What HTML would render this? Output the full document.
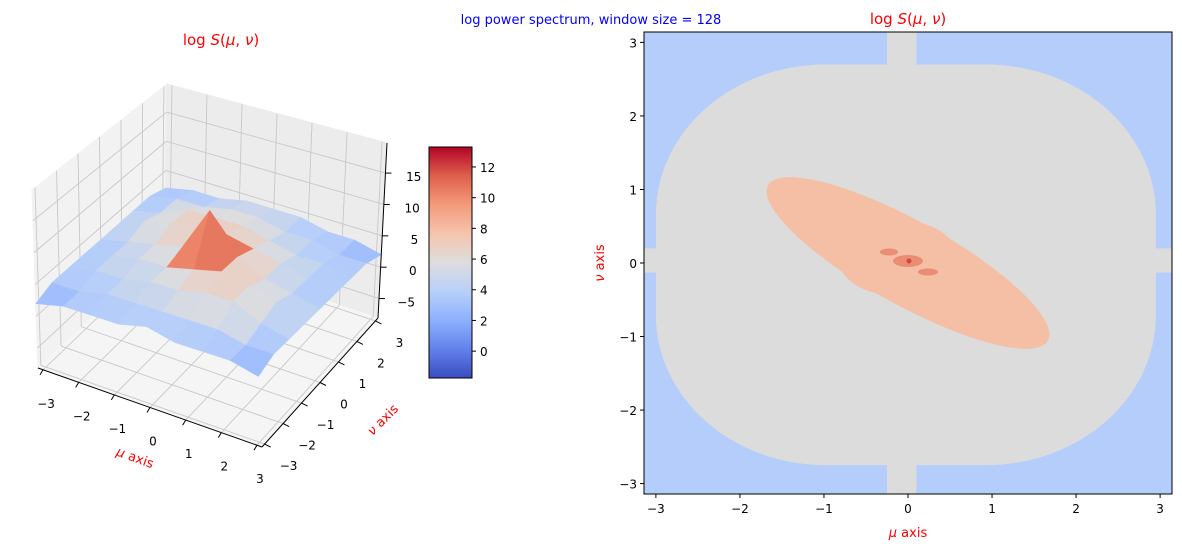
<!DOCTYPE html>
<html><head><meta charset="utf-8"><style>
html,body{margin:0;padding:0;background:#fff;}
svg{display:block;font-family:"DejaVu Sans","Liberation Sans",sans-serif;}
</style></head><body>
<svg id="fig" width="1182" height="551" viewBox="0 0 1182 551" xmlns="http://www.w3.org/2000/svg">
<rect width="1182" height="551" fill="#fff"/>
<text x="591" y="24" fill="#0000ff" font-size="13" text-anchor="middle">log power spectrum, window size = 128</text>
<g id="left"></g>
<g id="cbar"></g>
<g id="right"></g>
</svg>
<script>
// ---- data ----
const muTicks = [-3,-2,-1,0,1,2,3];
const nuTicks = [-3,-2,-1,0,1,2,3];
const zTicks = [-5,0,5,10,15];
const cbarTicks = [0,2,4,6,8,10,12];
const contourTicks = [-3,-2,-1,0,1,2,3];
// surface heights, rows = nu from -pi to pi, cols = mu from -pi to pi
const heights = [
 [2,3,3,3,4,3,3,3,2],
 [3,3,4,4,4,4,4,3,3],
 [3,4,4,5,5,6,6,4,3],
 [3,4,5,5,6,7,6,5,3],
 [3,4,5,6,13,7,5,4,3],
 [3,5,6,7,7,6,5,4,3],
 [3,4,6,6,6,5,4,4,3],
 [3,4,4,5,5,4,4,3,3],
 [2,3,3,4,4,4,3,3,2]
];
const levelColors = ['#b4cdfa','#dcdcdc','#f5bfa6','#eb8c74','#d04a40'];

const NS='http://www.w3.org/2000/svg';
function mk(tag,attrs,parent,txt){const e=document.createElementNS(NS,tag);for(const k in attrs)e.setAttribute(k,attrs[k]);if(txt!==undefined)e.textContent=txt;parent.appendChild(e);return e;}
const PI=Math.PI;
const cw=[[58,76,192],[98,130,234],[141,176,254],[184,208,249],[221,221,221],[245,196,173],[244,154,123],[222,96,76],[180,4,38]];
function coolwarm(t){t=Math.max(0,Math.min(1,t));const s=t*(cw.length-1);const i=Math.min(cw.length-2,Math.floor(s));const f=s-i;const c=cw[i].map((v,k)=>Math.round(v+(cw[i+1][k]-v)*f));return `rgb(${c[0]},${c[1]},${c[2]})`;}
const vmin=-1.75,vmax=13.3;

// ---- 3D axes ----
const L=document.getElementById('left');
const B00=[38,368],B10=[262,447],B11=[378,318],B01=[165,247];
const T00=[32,190],T10=[252,252],T11=[387,143],T01=[167,84];
const zmin=-8.1,zmax=19.8;
function bil(A,Bm,C,D,a,b){return [0,1].map(k=>A[k]*(1-a)*(1-b)+Bm[k]*a*(1-b)+C[k]*a*b+D[k]*(1-a)*b);}
function proj(mu,nu,z){const a=(mu+PI)/(2*PI),b=(nu+PI)/(2*PI),f=(z-zmin)/(zmax-zmin);
 const lo=bil(B00,B10,B11,B01,a,b),hi=bil(T00,T10,T11,T01,a,b);
 return [lo[0]+(hi[0]-lo[0])*f,lo[1]+(hi[1]-lo[1])*f];}
function pts(a){return a.map(p=>p[0].toFixed(1)+','+p[1].toFixed(1)).join(' ');}
const paneL=mk('polygon',{points:pts([proj(-PI,-PI,zmin),proj(-PI,PI,zmin),proj(-PI,PI,zmax),proj(-PI,-PI,zmax)]),fill:'#f2f2f2',stroke:'#f2f2f2'},L);

const paneR=mk('polygon',{points:pts([proj(-PI,PI,zmin),proj(PI,PI,zmin),proj(PI,PI,zmax),proj(-PI,PI,zmax)]),fill:'#ececec',stroke:'#ececec'},L);

const paneF=mk('polygon',{points:pts([proj(-PI,-PI,zmin),proj(PI,-PI,zmin),proj(PI,PI,zmin),proj(-PI,PI,zmin)]),fill:'#f5f5f5',stroke:'#f5f5f5'},L);

const gs={stroke:'#c8c8c8','stroke-width':0.9};
function line(a,b,st,par){return mk('line',Object.assign({x1:a[0],y1:a[1],x2:b[0],y2:b[1]},st),par||L);}
muTicks.forEach(m=>{line(proj(m,-PI,zmin),proj(m,PI,zmin),gs);line(proj(m,PI,zmin),proj(m,PI,zmax),gs);});
nuTicks.forEach(n=>{line(proj(-PI,n,zmin),proj(PI,n,zmin),gs);line(proj(-PI,n,zmin),proj(-PI,n,zmax),gs);});
zTicks.forEach(z=>{line(proj(-PI,-PI,z),proj(-PI,PI,z),gs);line(proj(-PI,PI,z),proj(PI,PI,z),gs);});
const n=heights.length;
const quads=[];
for(let i=0;i<n-1;i++)for(let j=0;j<n-1;j++){
 const mu0=-PI+2*PI*j/(n-1),mu1=-PI+2*PI*(j+1)/(n-1),nu0=-PI+2*PI*i/(n-1),nu1=-PI+2*PI*(i+1)/(n-1);
 const zs=[heights[i][j],heights[i][j+1],heights[i+1][j+1],heights[i+1][j]];
 const avg=(zs[0]+zs[1]+zs[2]+zs[3])/4, mx=Math.max(...zs);
 quads.push({depth:(mu0+mu1)/2-(nu0+nu1)/2,p:[proj(mu0,nu0,zs[0]),proj(mu1,nu0,zs[1]),proj(mu1,nu1,zs[2]),proj(mu0,nu1,zs[3])],z:0.5*avg+0.5*mx});
}
quads.sort((a,b)=>a.depth-b.depth);
quads.forEach(q=>{const c=coolwarm((q.z-vmin)/(vmax-vmin));
 const e=mk('polygon',{points:pts(q.p),fill:c,stroke:c,'stroke-width':0.6},L);
 
 });
const ax={stroke:'#000','stroke-width':1};
line(proj(-PI,-PI,zmin),proj(PI,-PI,zmin),ax);
line(proj(PI,-PI,zmin),proj(PI,PI,zmin),ax);
line(proj(PI,PI,zmin),proj(PI,PI,zmax),ax);
function lab(v){return v<0?'\u2212'+(-v):String(v);}
muTicks.forEach(m=>{const a=proj(m,-PI,zmin);line(a,[a[0]-3,a[1]+5],ax);
 const t=mk('text',{x:a[0]+3,y:a[1]+38,'font-size':12,'text-anchor':'middle',fill:'#000'},L,lab(m));
 });
nuTicks.forEach(v=>{const a=proj(PI,v,zmin);line(a,[a[0]+6,a[1]+3],ax);
 const t=mk('text',{x:a[0]+24,y:a[1]+26,'font-size':12,'text-anchor':'middle',fill:'#000'},L,lab(v));
 });
zTicks.forEach(z=>{const a=proj(PI,PI,z);line(a,[a[0]+6,a[1]],ax);
 const t=mk('text',{x:a[0]+36,y:a[1]+8,'font-size':12,'text-anchor':'end',fill:'#000'},L,lab(z));
 });
const lt=mk('text',{x:221,y:45,'font-size':15,'text-anchor':'middle',fill:'#ff0000'},L);
lt.innerHTML='log <tspan font-style="italic">S</tspan>(<tspan font-style="italic">μ</tspan>, <tspan font-style="italic">ν</tspan>)';

const mxl=mk('text',{x:135,y:462,'font-size':13,'text-anchor':'middle',fill:'#ff0000',transform:'rotate(20 135 458)'},L);
mxl.innerHTML='<tspan font-style="italic">μ</tspan> axis';

const nx=mk('text',{x:383,y:424,'font-size':13,'text-anchor':'middle',fill:'#ff0000',transform:'rotate(-45 383 420)'},L);
nx.innerHTML='<tspan font-style="italic">ν</tspan> axis';


// ---- colorbar ----
const C=document.getElementById('cbar');
const cb={x:429,y:147,w:43,h:231};
const defs=mk('defs',{},C);
const grad=mk('linearGradient',{id:'cwg',x1:0,y1:1,x2:0,y2:0},defs);
cw.forEach((c,i)=>mk('stop',{offset:i/(cw.length-1),'stop-color':`rgb(${c[0]},${c[1]},${c[2]})`},grad));
mk('rect',{x:cb.x,y:cb.y,width:cb.w,height:cb.h,fill:'url(#cwg)',stroke:'#000','stroke-width':1},C);
function cy(v){return cb.y+cb.h-(v-vmin)/(vmax-vmin)*cb.h;}
cbarTicks.forEach(v=>{const y=cy(v);line([cb.x+cb.w,y],[cb.x+cb.w+4,y],ax,C);
 const t=mk('text',{x:cb.x+cb.w+8,y:y+5,'font-size':12,fill:'#000'},C,String(v));
 });

// ---- contour plot ----
const R=document.getElementById('right');
const ax2={x0:644,x1:1172,y0:32,y1:494};
function sx(m){return ax2.x0+(m+PI)/(2*PI)*(ax2.x1-ax2.x0);}
function sy(v){return ax2.y1-(v+PI)/(2*PI)*(ax2.y1-ax2.y0);}
const cp=mk('clipPath',{id:'rc'},R);mk('rect',{x:ax2.x0,y:ax2.y0,width:ax2.x1-ax2.x0,height:ax2.y1-ax2.y0},cp);
const g=mk('g',{'clip-path':'url(#rc)'},R);
const bg=mk('rect',{x:ax2.x0,y:ax2.y0,width:ax2.x1-ax2.x0,height:ax2.y1-ax2.y0,fill:levelColors[0]},g);

const gray=mk('rect',{x:sx(-3.0),y:sy(2.7),width:sx(2.95)-sx(-3.0),height:sy(-2.75)-sy(2.7),rx:170,ry:150,fill:levelColors[1]},g);

mk('rect',{x:ax2.x0,y:sy(0.2),width:ax2.x1-ax2.x0,height:sy(-0.13)-sy(0.2),fill:levelColors[1]},g);
mk('rect',{x:sx(-0.25),y:ax2.y0,width:sx(0.1)-sx(-0.25),height:ax2.y1-ax2.y0,fill:levelColors[1]},g);
const cx=sx(0),cyy=sy(0);
const s1=mk('ellipse',{cx:cx,cy:cyy,rx:160,ry:42,transform:`rotate(29 ${cx} ${cyy})`,fill:levelColors[2]},g);

mk('ellipse',{cx:cx-10,cy:cyy-5,rx:60,ry:38,fill:levelColors[2]},g);
const s2=mk('ellipse',{cx:cx,cy:cyy-2,rx:15,ry:6,fill:levelColors[3]},g);

mk('ellipse',{cx:cx-19,cy:cyy-11,rx:9,ry:3.5,fill:levelColors[3]},g);
mk('ellipse',{cx:cx+20,cy:cyy+9,rx:10,ry:3.5,fill:levelColors[3]},g);
const s3=mk('circle',{cx:cx+1,cy:cyy-2,r:2.5,fill:levelColors[4]},g);

mk('rect',{x:ax2.x0,y:ax2.y0,width:ax2.x1-ax2.x0,height:ax2.y1-ax2.y0,fill:'none',stroke:'#000','stroke-width':1},R);
contourTicks.forEach(v=>{
 const x=sx(v);line([x,ax2.y1],[x,ax2.y1+4],ax,R);
 const t=mk('text',{x:x,y:ax2.y1+19,'font-size':12,'text-anchor':'middle',fill:'#000'},R,lab(v));
 
 const y=sy(v);line([ax2.x0-4,y],[ax2.x0,y],ax,R);
 const t2=mk('text',{x:ax2.x0-7,y:y+5,'font-size':12,'text-anchor':'end',fill:'#000'},R,lab(v));
 
});
const rt=mk('text',{x:908,y:24,'font-size':15,'text-anchor':'middle',fill:'#ff0000'},R);
rt.innerHTML='log <tspan font-style="italic">S</tspan>(<tspan font-style="italic">μ</tspan>, <tspan font-style="italic">ν</tspan>)';

const rx=mk('text',{x:908,y:537,'font-size':13,'text-anchor':'middle',fill:'#ff0000'},R);
rx.innerHTML='<tspan font-style="italic">μ</tspan> axis';

const ry=mk('text',{x:604,y:263,'font-size':13,'text-anchor':'middle',fill:'#ff0000',transform:'rotate(-90 604 263)'},R);
ry.innerHTML='<tspan font-style="italic">ν</tspan> axis';

</script>
</body></html>
